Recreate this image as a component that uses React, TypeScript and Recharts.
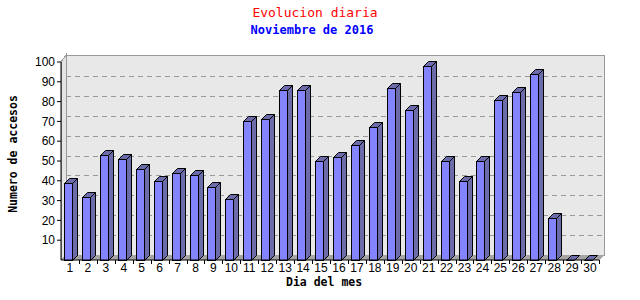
import React from "react";
import { BarChart, Bar, XAxis, YAxis, ReferenceArea, ReferenceLine } from "recharts";

// dias de noviembre 2016
const dias = [
  "1", "2", "3", "4", "5", "6", "7", "8", "9", "10",
  "11", "12", "13", "14", "15", "16", "17", "18", "19", "20",
  "21", "22", "23", "24", "25", "26", "27", "28", "29", "30",
];
const accesos = [
  39, 32, 53, 51, 46, 40, 44, 43, 37, 31,
  70, 71, 86, 86, 50, 52, 58, 67, 87, 76,
  98, 50, 40, 50, 81, 85, 94, 21, 0, 0,
];
const yTicks = [10, 20, 30, 40, 50, 60, 70, 80, 90, 100];
const gridValues = [10, 20, 30, 40, 50, 60, 70, 80, 90];

const data = dias.map((d, i) => ({ dia: d, accesos: accesos[i] }));

const W = 640;
const H = 300;
const D = 5; // profundidad 3d
const X_AXIS_H = 12;
const MARGIN = { top: 62, right: 41, bottom: 40 - X_AXIS_H, left: 1 };
const Y_AXIS_W = 60;
const BAND = (W - MARGIN.left - Y_AXIS_W - MARGIN.right) / dias.length;

const mono = "'DejaVu Sans Mono', monospace";

function Wall(props: any) {
  const { x, y, width, height } = props;
  const b = y + height;
  const r = x + width;
  return (
    <g shapeRendering="crispEdges">
      <polygon
        points={`${x},${b} ${x},${y} ${x + D},${y - D - 2} ${x + D},${b - D}`}
        fill="#e4e4e4"
        stroke="#999"
      />
      <rect x={x + D} y={y - D - 2} width={width} height={height + 2} fill="#e8e8e8" stroke="#999" />
      <polygon points={`${x},${b} ${x + D},${b - D} ${r + D},${b - D} ${r},${b}`} fill="#a4a4a4" />
    </g>
  );
}

function GridLine(props: any) {
  const { x1, y1, x2, y2 } = props;
  return (
    <line
      x1={x1 + D}
      y1={y1 - D}
      x2={x2 + D}
      y2={y2 - D}
      stroke="#999"
      strokeDasharray="5 4"
      shapeRendering="crispEdges"
    />
  );
}

function Bar3D(props: any) {
  const { x, y, width, height } = props;
  const fx = Math.round(x) + 1.5;
  const fw = Math.round(width - D) - 1;
  const top = Math.round(y) + 0.5;
  const bottom = Math.round(y + height) + 0.5;
  return (
    <g>
      {height > 0 && (
        <polygon
          points={`${fx + fw},${top} ${fx + fw + D},${top - D} ${fx + fw + D},${bottom - D} ${fx + fw},${bottom}`}
          fill="#6c6caa"
          stroke="#000"
        />
      )}
      {height > 0 && <rect x={fx} y={top} width={fw} height={bottom - top} fill="#8484ff" stroke="#000" />}
      <polygon
        points={`${fx},${top} ${fx + D},${top - D} ${fx + fw + D},${top - D} ${fx + fw},${top}`}
        fill="#6c6caa"
        stroke="#000"
      />
    </g>
  );
}

function DayTick(props: any) {
  const { x, y, payload } = props;
  const tx = Math.round(x + BAND / 2) + 0.5;
  return (
    <g>
      <line x1={tx} y1={y} x2={tx} y2={y + 4} stroke="#000" />
      <text x={x} y={y + 12} textAnchor="middle" fontSize={12} fill="#000" fontFamily="'Liberation Sans', Arial">
        {payload.value}
      </text>
    </g>
  );
}

export default function App() {
  return (
    <div style={{ position: "absolute", left: 0, top: 0, width: W, height: H, background: "#fff" }}>
      <div
        style={{
          position: "absolute", left: 0, width: W - 10, top: 5, textAlign: "center",
          color: "#ff0000", fontFamily: mono, fontSize: 13,
        }}
      >
        Evolucion diaria
      </div>
      <div
        style={{
          position: "absolute", left: 0, width: W - 16, top: 23, textAlign: "center",
          color: "#0000ff", fontFamily: mono, fontSize: 12, fontWeight: "bold",
        }}
      >
        Noviembre de 2016
      </div>
      <BarChart width={W} height={H} data={data} margin={MARGIN} barCategoryGap={2}>
        <ReferenceArea y1={0} y2={100} shape={Wall} ifOverflow="visible" zIndex={-60} />
        {gridValues.map((v) => (
          <ReferenceLine key={v} y={v} shape={GridLine} zIndex={-50} />
        ))}
        <XAxis
          dataKey="dia"
          interval={0}
          height={X_AXIS_H}
          tickLine={false}
          tickSize={0}
          tickMargin={0}
          tick={<DayTick />}
          axisLine={{ stroke: "#000" }}
        />
        <YAxis
          domain={[0, 100]}
          ticks={yTicks}
          interval={0}
          width={Y_AXIS_W}
          tickSize={4}
          tickMargin={2}
          tickLine={{ stroke: "#000" }}
          axisLine={{ stroke: "#000" }}
          tick={{ fill: "#000", fontSize: 12, fontFamily: "'Liberation Sans', Arial" }}
        />
        <Bar dataKey="accesos" barSize={14} shape={<Bar3D />} isAnimationActive={false} />
      </BarChart>
      <div
        style={{
          position: "absolute", left: 286, top: 276, fontFamily: mono, fontSize: 11.5,
          fontWeight: "bold", color: "#000", lineHeight: "13px",
        }}
      >
        Dia del mes
      </div>
      <div
        style={{
          position: "absolute", left: 13, top: 154, fontFamily: mono, fontSize: 11.5,
          fontWeight: "bold", color: "#000", transform: "translate(-50%, -50%) rotate(-90deg)",
          whiteSpace: "nowrap",
        }}
      >
        Numero de accesos
      </div>
    </div>
  );
}
